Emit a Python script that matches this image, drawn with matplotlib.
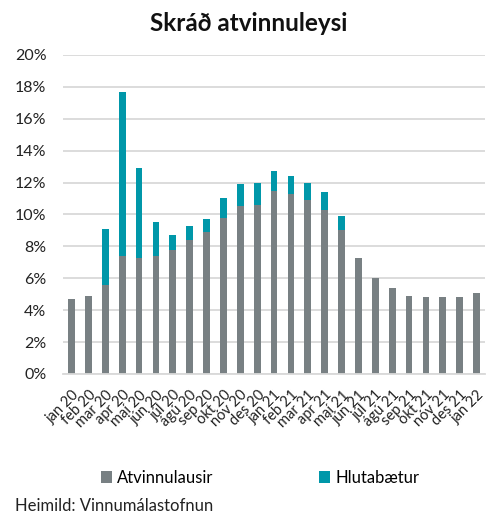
import numpy as np
import matplotlib
matplotlib.use("Agg")
import matplotlib.pyplot as plt
from matplotlib.ticker import FuncFormatter

plt.rcParams['font.family'] = ['Lato', 'DejaVu Sans']

months = ['jan 20', 'feb 20', 'mar 20', 'apr 20', 'maí 20', 'jún 20', 'júl 20',
          'ágú 20', 'sep 20', 'okt 20', 'nóv 20', 'des 20', 'jan 21', 'feb 21',
          'mar 21', 'apr 21', 'maí 21', 'jún 21', 'júl 21', 'ágú 21', 'sep 21',
          'okt 21', 'nóv 21', 'des 21', 'jan 22']

# atvinnulausir (%)
atvinnulausir = [4.7, 4.9, 5.6, 7.4, 7.3, 7.4, 7.8, 8.4, 8.9, 9.8, 10.5, 10.6,
                 11.5, 11.3, 10.9, 10.3, 9.0, 7.3, 6.0, 5.4, 4.9, 4.8, 4.8, 4.8, 5.1]
# hlutabætur ofan á (%)
hlutabaetur = [0.0, 0.0, 3.5, 10.3, 5.6, 2.1, 0.9, 0.9, 0.8, 1.2, 1.4, 1.4,
               1.2, 1.1, 1.1, 1.1, 0.9, 0, 0, 0, 0, 0, 0, 0, 0]

grey = '#788083'
teal = '#0097a9'

fig = plt.figure(figsize=(4.86, 5.18), dpi=100)
ax = fig.add_axes([0.13, 0.278, 0.868, 0.616])

x = np.arange(len(months))
a = np.array(atvinnulausir)
h = np.array(hlutabaetur)
ax.bar(x, a, width=0.4, color=grey, label='Atvinnulausir', zorder=2)
ax.bar(x, h, width=0.4, bottom=a, color=teal, label='Hlutabætur', zorder=2)

ax.set_ylim(0, 20)
ax.set_yticks(np.arange(0, 21, 2))
ax.yaxis.set_major_formatter(FuncFormatter(lambda v, p: '%d%%' % v))
ax.set_xlim(-0.5, len(months) - 0.5)
ax.set_xticks(x)
ax.set_xticklabels(months, rotation=45, ha='right', rotation_mode='anchor', fontsize=10.5)
ax.tick_params(axis='both', length=0, colors='#222222')
ax.tick_params(axis='y', labelsize=11.5, pad=12)
ax.tick_params(axis='x', pad=10)
ax.grid(axis='y', color='#d9d9d9', linewidth=1.3, zorder=0)
for s in ['top', 'right', 'left']:
    ax.spines[s].set_visible(False)
ax.spines['bottom'].set_color('#d9d9d9')
ax.spines['bottom'].set_linewidth(1.3)

fig.text(0.512, 0.955, 'Skráð atvinnuleysi', ha='center', va='center',
         fontsize=17.5, fontweight='bold', color='#111111')

fig.legend(loc='center', bbox_to_anchor=(0.535, 0.077), ncol=2, frameon=False,
           fontsize=12, handlelength=0.7, handleheight=0.7, handletextpad=0.3,
           columnspacing=6.3)

fig.text(0.03, 0.013, 'Heimild: Vinnumálastofnun', fontsize=12, color='#222222')

fig.savefig('out.png', dpi=100)
